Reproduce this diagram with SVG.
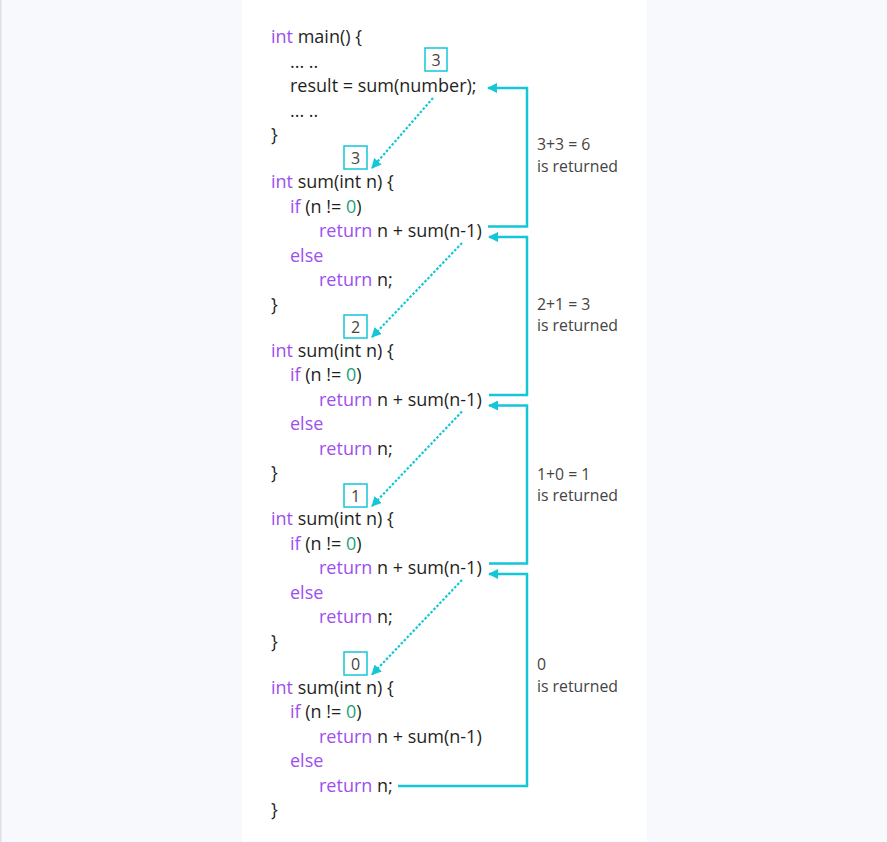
<svg xmlns="http://www.w3.org/2000/svg" width="887" height="842" viewBox="0 0 887 842">
<defs>
<style>
.code{font-family:"Open Sans","Noto Sans",sans-serif;font-size:18px;fill:#1f1f1f}
.kw{fill:#9d4ff0}
.num{fill:#1ca37a}
.lbl{font-family:"Open Sans","Noto Sans",sans-serif;font-size:15.8px;fill:#444}
.box{fill:none;stroke:#14c6d6;stroke-width:1.5}
.bt{font-family:"Open Sans","Noto Sans",sans-serif;font-size:16px;fill:#444;text-anchor:middle}
.ret{fill:none;stroke:#14c6d6;stroke-width:2.5}
.call{fill:none;stroke:#14c6d6;stroke-width:2.2;stroke-dasharray:2.5 1.8}
</style>
<marker id="ah" viewBox="0 0 10 10" refX="9" refY="5" markerWidth="10" markerHeight="10" markerUnits="userSpaceOnUse" orient="auto">
<path d="M0,0 L10,5 L0,10 z" fill="#14c6d6"/>
</marker>
</defs>
<rect x="0" y="0" width="887" height="842" fill="#f8f9fc"/>
<rect x="0" y="0" width="1.5" height="842" fill="#dfe1ea"/>
<rect x="242" y="0" width="405" height="842" fill="#ffffff"/>

<g id="main">
<text class="code" x="271" y="43"><tspan class="kw">int</tspan> main() {</text>
<text class="code" x="290" y="68">... ..</text>
<text class="code" x="290" y="92">result = sum(number);</text>
<text class="code" x="290" y="117">... ..</text>
<text class="code" x="271" y="141">}</text>
<rect class="box" x="425" y="48" width="22" height="23"/>
<text class="bt" x="436" y="65.5">3</text>
</g>

<g id="sum3">
<rect class="box" x="344" y="146" width="23" height="23"/>
<text class="bt" x="355.5" y="163.5">3</text>
<text class="code" x="271" y="188"><tspan class="kw">int</tspan> sum(int n) {</text>
<text class="code" x="290" y="212.5"><tspan class="kw">if</tspan> (n != <tspan class="num">0</tspan>)</text>
<text class="code" x="319" y="237"><tspan class="kw">return</tspan> n + sum(n-1)</text>
<text class="code kw" x="290" y="261.5">else</text>
<text class="code" x="319" y="286"><tspan class="kw">return</tspan> n;</text>
<text class="code" x="271" y="310.5">}</text>
</g>

<g id="sum2">
<rect class="box" x="344" y="315" width="23" height="23"/>
<text class="bt" x="355.5" y="332.5">2</text>
<text class="code" x="271" y="356.5"><tspan class="kw">int</tspan> sum(int n) {</text>
<text class="code" x="290" y="381"><tspan class="kw">if</tspan> (n != <tspan class="num">0</tspan>)</text>
<text class="code" x="319" y="405.5"><tspan class="kw">return</tspan> n + sum(n-1)</text>
<text class="code kw" x="290" y="430">else</text>
<text class="code" x="319" y="454.5"><tspan class="kw">return</tspan> n;</text>
<text class="code" x="271" y="479">}</text>
</g>

<g id="sum1">
<rect class="box" x="344" y="484" width="23" height="23"/>
<text class="bt" x="355.5" y="501.5">1</text>
<text class="code" x="271" y="525"><tspan class="kw">int</tspan> sum(int n) {</text>
<text class="code" x="290" y="549.5"><tspan class="kw">if</tspan> (n != <tspan class="num">0</tspan>)</text>
<text class="code" x="319" y="574"><tspan class="kw">return</tspan> n + sum(n-1)</text>
<text class="code kw" x="290" y="598.5">else</text>
<text class="code" x="319" y="623"><tspan class="kw">return</tspan> n;</text>
<text class="code" x="271" y="647.5">}</text>
</g>

<g id="sum0">
<rect class="box" x="344" y="652" width="23" height="23"/>
<text class="bt" x="355.5" y="669.5">0</text>
<text class="code" x="271" y="693.5"><tspan class="kw">int</tspan> sum(int n) {</text>
<text class="code" x="290" y="718"><tspan class="kw">if</tspan> (n != <tspan class="num">0</tspan>)</text>
<text class="code" x="319" y="742.5"><tspan class="kw">return</tspan> n + sum(n-1)</text>
<text class="code kw" x="290" y="767">else</text>
<text class="code" x="319" y="791.5"><tspan class="kw">return</tspan> n;</text>
<text class="code" x="271" y="816">}</text>
</g>

<g id="labels">
<text class="lbl" x="537" y="150">3+3 = 6</text>
<text class="lbl" x="537" y="172">is returned</text>
<text class="lbl" x="537" y="310">2+1 = 3</text>
<text class="lbl" x="537" y="331">is returned</text>
<text class="lbl" x="537" y="480">1+0 = 1</text>
<text class="lbl" x="537" y="501">is returned</text>
<text class="lbl" x="537" y="670">0</text>
<text class="lbl" x="537" y="692">is returned</text>
</g>

<g id="connectors">
<path class="ret" d="M488,226.5 H527 V88 H488" marker-end="url(#ah)"/>
<path class="ret" d="M489,395 H527 V237 H489" marker-end="url(#ah)"/>
<path class="ret" d="M489,563.5 H527 V405.5 H489" marker-end="url(#ah)"/>
<path class="ret" d="M398,786 H527 V574 H489" marker-end="url(#ah)"/>
<path class="call" d="M433,98 L372,168" marker-end="url(#ah)"/>
<path class="call" d="M462,243 L372,337" marker-end="url(#ah)"/>
<path class="call" d="M462,411.5 L372,506" marker-end="url(#ah)"/>
<path class="call" d="M462,580 L372,674.5" marker-end="url(#ah)"/>
</g>
</svg>
